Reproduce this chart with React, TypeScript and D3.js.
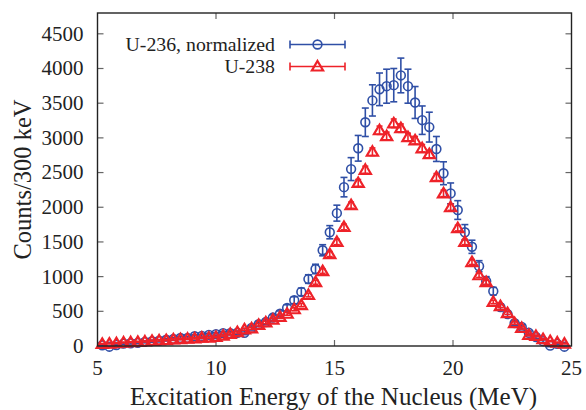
import { useRef, useEffect } from 'react';
import * as d3 from 'd3';

// bin centres, MeV (300 keV bins)
const ENERGY = [
  5.2, 5.5, 5.8, 6.1, 6.4, 6.7, 7.0, 7.3, 7.6, 7.9, 8.2, 8.5, 8.8, 9.1, 9.4, 9.7, 10.0,
  10.3, 10.6, 10.9, 11.2, 11.5, 11.8, 12.1, 12.4, 12.7, 13.0, 13.3, 13.6, 13.9, 14.2,
  14.5, 14.8, 15.1, 15.4, 15.7, 16.0, 16.3, 16.6, 16.9, 17.2, 17.5, 17.8, 18.1, 18.4,
  18.7, 19.0, 19.3, 19.6, 19.9, 20.2, 20.5, 20.8, 21.1, 21.4, 21.7, 22.0, 22.3, 22.6,
  22.9, 23.2, 23.5, 23.8, 24.1, 24.4, 24.7,
];

const U236 = [
  10, -10, 15, 35, 40, 45, 60, 70, 75, 90, 100, 115, 115, 140, 145, 160, 170,
  185, 185, 190, 190, 260, 315, 345, 410, 465, 550, 660, 780, 965, 1110,
  1380, 1640, 1915, 2290, 2550, 2850, 3225, 3540, 3700, 3745, 3760, 3900, 3745, 3510,
  3255, 3155, 2840, 2490, 2200, 1960, 1640, 1430, 1150, 935, 790, 560, 460, 330,
  275, 190, 130, 70, 5, 30, -10,
];
const U236_ERR = [
  10, 8, 10, 12, 12, 13, 15, 16, 17, 18, 19, 20, 20, 22, 23, 24, 25,
  26, 26, 27, 27, 30, 33, 35, 38, 40, 45, 50, 55, 62, 68,
  80, 95, 115, 140, 165, 185, 205, 225, 235, 245, 240, 250, 245, 230,
  205, 215, 180, 165, 150, 135, 110, 95, 80, 65, 55, 45, 40, 35,
  30, 25, 22, 18, 15, 12, 10,
];

const U238 = [
  30, 35, 40, 50, 55, 60, 65, 75, 80, 85, 95, 100, 105, 110, 120, 120, 130,
  150, 175, 200, 240, 255, 305, 340, 380, 420, 465, 530, 590, 735, 920,
  1080, 1325, 1500, 1715, 2030, 2350, 2540, 2800, 3110, 3025, 3210, 3140, 3010, 2965,
  2850, 2765, 2435, 2200, 2000, 1700, 1500, 1210, 1020, 920, 635, 575, 475, 330,
  260, 160, 145, 100, 70, 50, 35,
];
const U238_ERR = [
  6, 6, 6, 7, 7, 8, 8, 9, 9, 9, 10, 10, 10, 10, 11, 11, 11,
  12, 13, 14, 15, 16, 17, 18, 19, 20, 21, 23, 24, 27, 30,
  33, 36, 39, 41, 45, 50, 52, 55, 60, 58, 62, 60, 58, 56,
  55, 54, 50, 47, 45, 41, 39, 35, 32, 30, 25, 24, 22, 18,
  16, 13, 12, 10, 8, 7, 6,
];

const X_TICKS = [5, 10, 15, 20, 25];
const Y_TICKS = [0, 500, 1000, 1500, 2000, 2500, 3000, 3500, 4000, 4500];

const BLUE = '#2f4fa6';
const RED = '#ee2229';
const FONT = 'Liberation Serif';

const W = 586, H = 410;

export default function App() {
  const ref = useRef<SVGSVGElement>(null);

  useEffect(() => {
    const svg = d3.select(ref.current);
    svg.selectAll('*').remove();
    const margin = { top: 13, right: 14.5, bottom: 64, left: 97.5 };
    const innerW = W - margin.left - margin.right;
    const innerH = H - margin.top - margin.bottom;
    const x = d3.scaleLinear().domain([5, 25]).range([0, innerW]);
    const y = d3.scaleLinear().domain([0, 4800]).range([innerH, 0]);

    const g = svg.append('g').attr('transform', `translate(${margin.left},${margin.top})`);

    // inward ticks on all four sides
    const tk = 6;
    const ticks = g.append('g').attr('stroke', '#666').attr('stroke-width', 1.2);
    X_TICKS.slice(1, -1).forEach(t => {
      ticks.append('line').attr('x1', x(t)).attr('x2', x(t)).attr('y1', innerH).attr('y2', innerH - tk);
      ticks.append('line').attr('x1', x(t)).attr('x2', x(t)).attr('y1', 0).attr('y2', tk);
    });
    Y_TICKS.slice(1).forEach(t => {
      ticks.append('line').attr('x1', 0).attr('x2', tk).attr('y1', y(t)).attr('y2', y(t));
      ticks.append('line').attr('x1', innerW).attr('x2', innerW - tk).attr('y1', y(t)).attr('y2', y(t));
    });

    // tick labels
    g.append('g').selectAll('text').data(X_TICKS).join('text')
      .attr('x', d => x(d)).attr('y', innerH + 29)
      .attr('text-anchor', 'middle').attr('font-size', 21).attr('font-family', FONT).attr('fill', '#222')
      .text(d => d);
    g.append('g').selectAll('text').data(Y_TICKS).join('text')
      .attr('x', -14).attr('y', d => y(d)).attr('dy', '0.33em')
      .attr('text-anchor', 'end').attr('font-size', 21).attr('font-family', FONT).attr('fill', '#222')
      .text(d => d);

    // axis titles
    svg.append('text')
      .attr('x', margin.left + innerW / 2 - 1).attr('y', 405)
      .attr('text-anchor', 'middle').attr('font-size', 25).attr('font-family', FONT).attr('fill', '#222')
      .text('Excitation Energy of the Nucleus (MeV)');
    svg.append('text')
      .attr('transform', `translate(31,${margin.top + innerH / 2}) rotate(-90)`)
      .attr('text-anchor', 'middle').attr('font-size', 24.5).attr('font-family', FONT).attr('fill', '#222')
      .text('Counts/300 keV');

    const blue = ENERGY.map((e, i) => ({ e, v: U236[i], err: U236_ERR[i] }));
    const red = ENERGY.map((e, i) => ({ e, v: U238[i], err: U238_ERR[i] }));

    const tri = 'M0,-5.5L5.6,4L-5.6,4Z';

    function errorBars(sel, data, color, cap, sw) {
      const eb = sel.append('g').attr('stroke', color).attr('stroke-width', sw).attr('fill', 'none');
      data.forEach(d => {
        const y0 = y(d.v - d.err), y1 = y(d.v + d.err), cx = x(d.e);
        eb.append('line').attr('x1', cx).attr('x2', cx).attr('y1', y0).attr('y2', y1);
        eb.append('line').attr('x1', cx - cap).attr('x2', cx + cap).attr('y1', y0).attr('y2', y0);
        eb.append('line').attr('x1', cx - cap).attr('x2', cx + cap).attr('y1', y1).attr('y2', y1);
      });
    }

    // U-236
    errorBars(g, blue, BLUE, 3.5, 1.6);
    g.append('g').selectAll('circle').data(blue).join('circle')
      .attr('cx', d => x(d.e)).attr('cy', d => y(d.v)).attr('r', 4.4)
      .attr('fill', 'none').attr('stroke', BLUE).attr('stroke-width', 1.6);

    // U-238
    errorBars(g, red, RED, 3, 1.6);
    g.append('g').selectAll('path').data(red).join('path')
      .attr('d', tri).attr('transform', d => `translate(${x(d.e)},${y(d.v)})`)
      .attr('fill', 'none').attr('stroke', RED).attr('stroke-width', 2.2);

    // frame
    g.append('rect').attr('width', innerW).attr('height', innerH)
      .attr('fill', 'none').attr('stroke', '#222').attr('stroke-width', 1.4);

    // legend
    const leg = svg.append('g');
    const items = [
      { label: 'U-236, normalized', color: BLUE, ly: 44.5, mark: 'circle' },
      { label: 'U-238', color: RED, ly: 66.5, mark: 'tri' },
    ];
    items.forEach(it => {
      leg.append('text').attr('x', 275).attr('y', it.ly).attr('dy', '0.33em')
        .attr('text-anchor', 'end').attr('font-size', 19.8).attr('font-family', FONT).attr('fill', '#222')
        .text(it.label);
      const lg = leg.append('g').attr('stroke', it.color).attr('fill', 'none').attr('stroke-width', 1.6);
      lg.append('line').attr('x1', 290).attr('x2', 345).attr('y1', it.ly).attr('y2', it.ly);
      lg.append('line').attr('x1', 290).attr('x2', 290).attr('y1', it.ly - 4).attr('y2', it.ly + 4);
      lg.append('line').attr('x1', 345).attr('x2', 345).attr('y1', it.ly - 4).attr('y2', it.ly + 4);
      if (it.mark === 'circle') {
        lg.append('circle').attr('cx', 317.5).attr('cy', it.ly).attr('r', 4.4);
      } else {
        lg.append('path').attr('d', tri).attr('transform', `translate(317.5,${it.ly})`).attr('stroke-width', 2.2);
      }
    });
  }, []);

  return (
    <svg ref={ref} width={W} height={H}
      style={{ position: 'absolute', left: 0, top: 0, background: '#fff' }} />
  );
}
